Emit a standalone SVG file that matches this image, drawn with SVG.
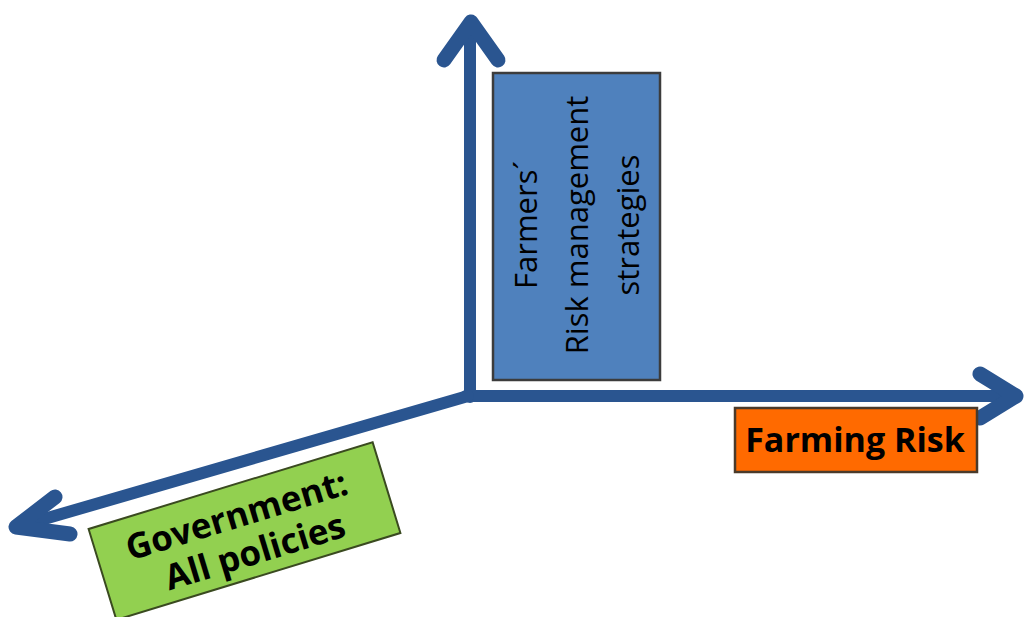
<svg xmlns="http://www.w3.org/2000/svg" width="1024" height="617" viewBox="0 0 1024 617">
<style>
.ax{fill:none;stroke:#2A5590;stroke-width:12;stroke-linecap:round;stroke-linejoin:round}
.hd{fill:none;stroke:#2A5590;stroke-width:15;stroke-linecap:round;stroke-linejoin:round}
.lbl{font-family:"Open Sans","Liberation Sans",sans-serif;fill:#000;text-anchor:middle}
.b{font-weight:bold}
</style>
<rect width="1024" height="617" fill="#fff"/>
<g id="connectors">
<path class="ax" d="M470,397 L470,24"/>
<path class="hd" d="M444,60 L471,22 L498,60"/>
<path class="ax" d="M466,396 L1014,396"/>
<path class="hd" d="M980,374 L1016,396 L980,418"/>
<path class="ax" d="M468,396 L20,526"/>
<path class="hd" d="M55,497 L16,527 L70,534"/>
</g>
<g id="farmers">
<rect x="493" y="73" width="167" height="307" fill="#4F81BD" stroke="#3c3c3c" stroke-width="2.5"/>
<g transform="translate(0,225) rotate(-90)">
<text class="lbl" x="0" y="537" font-size="31">Farmers´</text>
<text class="lbl" x="0" y="588" font-size="31">Risk management</text>
<text class="lbl" x="0" y="639" font-size="31">strategies</text>
</g>
</g>
<g id="farming-risk">
<rect x="735" y="408" width="242" height="64" fill="#FF6A00" stroke="#4a3a2a" stroke-width="2.5"/>
<text class="lbl b" x="855" y="452" font-size="34">Farming Risk</text>
</g>
<g id="government" transform="translate(244.5,531) rotate(-17)">
<rect x="-148.5" y="-47.5" width="297" height="95" fill="#92D050" stroke="#3a4a20" stroke-width="2"/>
<text class="lbl b" x="-3" y="-5" font-size="35">Government:</text>
<text class="lbl b" x="4" y="35" font-size="35">All policies</text>
</g>
</svg>
